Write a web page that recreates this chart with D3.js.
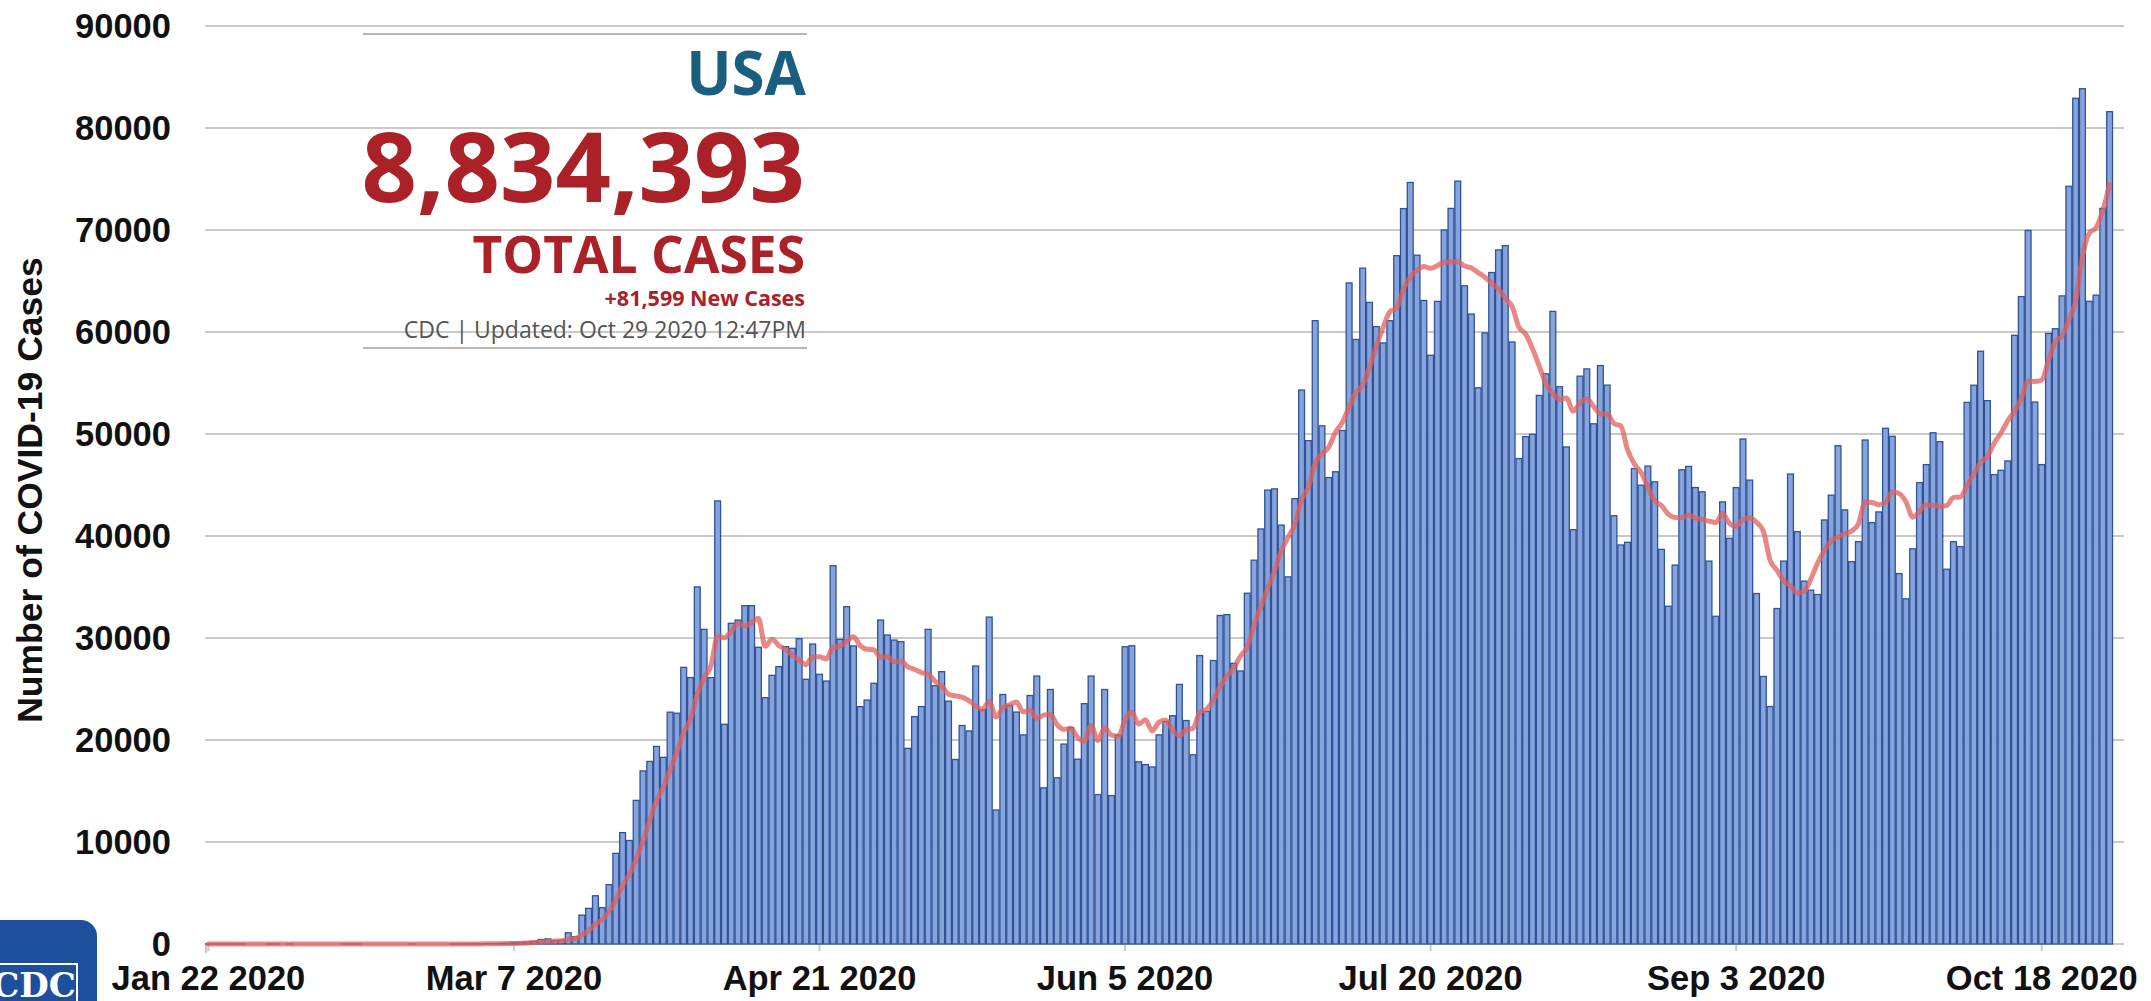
<!DOCTYPE html>
<html>
<head>
<meta charset="utf-8">
<script src="https://cdn.jsdelivr.net/npm/d3@7"></script>
<style>
  html, body { margin: 0; padding: 0; background: #fff; }
  svg { display: block; }
</style>
</head>
<body>
<svg id="chart" width="2151" height="1001"></svg>
<script>
// ---------------- DATA ----------------
// Daily new COVID-19 cases, USA, Jan 22 2020 (day 0) .. Oct 28 2020 (day 280)
const dailyCases = [
  // Jan 22 - Mar 1 (days 0-39)
  1, 1, 1, 1, 3, 1, 0, 0, 0, 1,
  1, 0, 1, 0, 0, 0, 0, 0, 0, 0,
  1, 1, 1, 0, 0, 0, 0, 0, 0, 0,
  2, 0, 0, 0, 0, 0, 8, 12, 15, 18,
  // days 40-74
  25, 30, 45, 60, 80, 150, 160, 210, 260, 440,
  500, 320, 380, 1100, 700, 2830, 3490, 4730, 3560, 5820,
  8890, 10920, 10150, 14080, 16970, 17900, 19370, 18300, 22730, 22630,
  27120, 26120, 35010, 30850, 26120,
  // days 75-109
  43440, 21540, 31440, 31760, 33170, 33170, 29090, 24150, 26340, 27190,
  29150, 28990, 29930, 25950, 29410, 26440, 25780, 37090, 29870, 33070,
  29220, 23270, 23920, 25560, 31760, 30290, 29800, 29640, 19180, 22290,
  23270, 30850, 25330, 26700, 23810,
  // days 110-143
  18090, 21420, 20890, 27260, 22970, 32050, 13140, 24460, 23400, 22740,
  20500, 24360, 26270, 15310, 24950, 16300, 19600, 21220, 18120, 23560,
  26270, 14650, 24950, 14550, 20500, 29140, 29240, 17860, 17590, 17360,
  20500, 21820, 22380, 25450,
  // days 144-178
  21910, 18550, 28280, 22800, 27790, 32210, 32290, 27520, 26760, 34390,
  37630, 40690, 44500, 44620, 41070, 35990, 43660, 54310, 49350, 61110,
  50800, 45730, 46300, 50340, 64810, 59270, 66260, 62900, 60530, 58930,
  61110, 67480, 72100, 74660, 67530,
  // days 179-212
  63090, 57720, 63000, 70000, 72120, 74790, 64530, 61760, 54530, 59900,
  65830, 68050, 68470, 59020, 47590, 49740, 49970, 53780, 55900, 62020,
  54630, 48730, 40620, 55670, 56380, 51000, 56710, 54790, 41990, 39120,
  39380, 46610, 44980, 46850,
  // days 213-247
  45310, 38690, 33110, 37150, 46490, 46820, 44750, 44330, 37540, 32130,
  43340, 39770, 44750, 49510, 45480, 34360, 26230, 23280, 32890, 37540,
  46070, 40430, 35570, 34690, 34260, 41570, 44000, 48850, 42560, 37480,
  39440, 49410, 41310, 42360, 50560,
  // days 248-280
  49770, 36320, 33840, 38740, 45220, 47000, 50120, 49250, 36740, 39440,
  38950, 53100, 54780, 58110, 53270, 46020, 46440, 47360, 59680, 63470,
  69950, 53130, 47000, 59860, 60320, 63540, 74290, 82910, 83850, 63010,
  63610, 72120, 81599
];

const tickDays = [0, 45, 90, 135, 180, 225, 270];
const tickLabels = ["Jan 22 2020", "Mar 7 2020", "Apr 21 2020", "Jun 5 2020", "Jul 20 2020", "Sep 3 2020", "Oct 18 2020"];
const yTicks = [0, 10000, 20000, 30000, 40000, 50000, 60000, 70000, 80000, 90000];

const titleCountry = "USA";
const totalCases = "8,834,393";
const totalLabel = "TOTAL CASES";
const newCasesLabel = "+81,599 New Cases";
const updatedLabel = "CDC | Updated: Oct 29 2020 12:47PM";
const yAxisTitle = "Number of COVID-19 Cases";

// ---------------- CHART ----------------
const svg = d3.select("#chart");

const days = d3.range(dailyCases.length);
const x = d3.scaleBand().domain(days).range([205, 2113]).paddingInner(0.14).paddingOuter(0.07);
const y = d3.scaleLinear().domain([0, 90000]).range([944, 26]);
const gridRight = 2124;

// 7-day trailing average of the daily values (as in the original chart)
const avg7 = dailyCases.map((v, i) => d3.mean(dailyCases.slice(Math.max(0, i - 6), i + 1)));

// gridlines
svg.append("g")
  .selectAll("line")
  .data(yTicks)
  .join("line")
  .attr("x1", 205).attr("x2", gridRight)
  .attr("y1", d => y(d)).attr("y2", d => y(d))
  .attr("stroke", "#c9c9c9").attr("stroke-width", 2);

// y labels
svg.append("g")
  .selectAll("text")
  .data(yTicks)
  .join("text")
  .attr("x", 171)
  .attr("y", d => y(d))
  .attr("dy", "0.36em")
  .attr("text-anchor", "end")
  .attr("font-family", "'Liberation Sans', Arial, sans-serif")
  .attr("font-weight", "bold")
  .attr("font-size", 34.5)
  .attr("fill", "#111")
  .text(d => d);

// x ticks
const tickX = d => x(d) + x.bandwidth() / 2;
svg.append("g")
  .selectAll("line")
  .data(tickDays)
  .join("line")
  .attr("x1", tickX).attr("x2", tickX)
  .attr("y1", 944).attr("y2", 951)
  .attr("stroke", "#c9c9c9").attr("stroke-width", 2);
svg.append("line")
  .attr("x1", 206).attr("x2", 206).attr("y1", 944).attr("y2", 953)
  .attr("stroke", "#c9c9c9").attr("stroke-width", 2);

svg.append("g")
  .selectAll("text")
  .data(tickDays)
  .join("text")
  .attr("x", tickX)
  .attr("y", 990)
  .attr("text-anchor", "middle")
  .attr("font-family", "'Liberation Sans', Arial, sans-serif")
  .attr("font-weight", "bold")
  .attr("font-size", 34.5)
  .attr("fill", "#111")
  .text((d, i) => tickLabels[i]);

// y axis title
svg.append("text")
  .attr("transform", "translate(42,490) rotate(-90)")
  .attr("text-anchor", "middle")
  .attr("font-family", "'Liberation Sans', Arial, sans-serif")
  .attr("font-weight", "bold")
  .attr("font-size", 35.5)
  .attr("fill", "#111")
  .text(yAxisTitle);

// title block (drawn over the gridlines, no background, as in the reference)
const tb = svg.append("g").attr("font-family", "'Open Sans', 'Noto Sans', sans-serif");
tb.append("line").attr("x1", 363).attr("x2", 807).attr("y1", 34).attr("y2", 34)
  .attr("stroke", "#b5b5b5").attr("stroke-width", 2);
tb.append("line").attr("x1", 363).attr("x2", 807).attr("y1", 348).attr("y2", 348)
  .attr("stroke", "#b5b5b5").attr("stroke-width", 2);
tb.append("text").attr("x", 806).attr("y", 95).attr("text-anchor", "end")
  .attr("font-weight", "bold").attr("font-size", 60).attr("fill", "#1b5f80").text(titleCountry);
tb.append("text").attr("x", 805).attr("y", 202).attr("text-anchor", "end")
  .attr("font-weight", "bold").attr("font-size", 97).attr("fill", "#aa2128").text(totalCases);
tb.append("text").attr("x", 805).attr("y", 273).attr("text-anchor", "end")
  .attr("font-weight", "bold").attr("font-size", 51.5).attr("fill", "#aa2128").text(totalLabel);
tb.append("text").attr("x", 805).attr("y", 306).attr("text-anchor", "end")
  .attr("font-weight", "bold").attr("font-size", 21.5).attr("fill", "#aa2128").text(newCasesLabel);
tb.append("text").attr("x", 806).attr("y", 338).attr("text-anchor", "end")
  .attr("font-size", 23).attr("fill", "#555").text(updatedLabel);

// bars
svg.append("g")
  .selectAll("rect")
  .data(days.filter(d => dailyCases[d] > 0))
  .join("rect")
  .attr("x", d => x(d))
  .attr("width", x.bandwidth())
  .attr("y", d => y(dailyCases[d]))
  .attr("height", d => y(0) - y(dailyCases[d]))
  .attr("fill", "#86a3dc")
  .attr("stroke", "#2e5398")
  .attr("stroke-width", 1.3);

// 7-day average line
const line = d3.line()
  .x((d, i) => x(i) + x.bandwidth() / 2)
  .y(d => y(d))
  .curve(d3.curveMonotoneX);
svg.append("path")
  .datum(avg7)
  .attr("d", line)
  .attr("fill", "none")
  .attr("stroke", "#e0605e")
  .attr("stroke-opacity", 0.75)
  .attr("stroke-width", 5)
  .attr("stroke-linejoin", "round")
  .attr("stroke-linecap", "round");

// CDC logo (partially cut by the picture edge, as in the reference)
const logo = svg.append("g");
logo.append("rect").attr("x", -20).attr("y", 920).attr("width", 117).attr("height", 120)
  .attr("rx", 16).attr("fill", "#1d4f9c");
logo.append("rect").attr("x", -10).attr("y", 964).attr("width", 87).attr("height", 60)
  .attr("fill", "none").attr("stroke", "#ffffff").attr("stroke-width", 2);
logo.append("text").attr("x", 34).attr("y", 997).attr("text-anchor", "middle")
  .attr("font-family", "'DejaVu Serif', 'Liberation Serif', serif")
  .attr("font-weight", "bold").attr("font-size", 34).attr("fill", "#ffffff")
  .text("CDC");
</script>
</body>
</html>
